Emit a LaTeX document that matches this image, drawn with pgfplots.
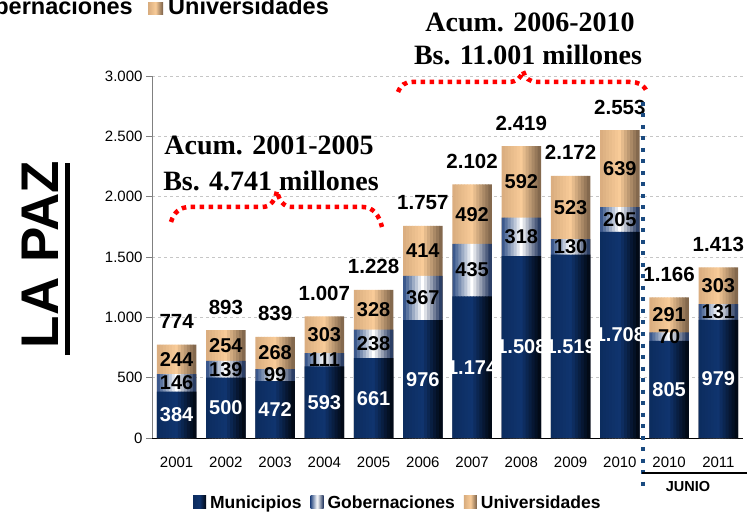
\documentclass[border=0pt]{standalone}
\usepackage{pgfplots}
\pgfplotsset{compat=1.18}
\usepackage{pgfplotstable}
\usepackage{fontspec}
\setmainfont{Liberation Sans}
\newfontfamily\timesf{Liberation Serif}
\definecolor{munL}{HTML}{0C2C5E}
\definecolor{munM}{HTML}{10346E}
\definecolor{munR}{HTML}{01060F}
\definecolor{gobL}{HTML}{2A4A82}
\definecolor{gobM}{HTML}{FFFFFF}
\definecolor{gobR}{HTML}{1A2E58}
\definecolor{uniL}{HTML}{D8AC7E}
\definecolor{uniM}{HTML}{F8CB98}
\definecolor{uniR}{HTML}{7A6048}
\definecolor{braceblue}{HTML}{1A4A80}
\definecolor{bracered}{HTML}{FF0000}

% 13-step horizontal gradient colours: name, left, middle, right
\newcommand\mkgrad[4]{%
  \colorlet{#1a}{#3!8!#2}\colorlet{#1b}{#3!23!#2}\colorlet{#1c}{#3!38!#2}%
  \colorlet{#1d}{#3!54!#2}\colorlet{#1e}{#3!69!#2}\colorlet{#1f}{#3!85!#2}%
  \colorlet{#1g}{#3}%
  \colorlet{#1h}{#4!15!#3}\colorlet{#1i}{#4!31!#3}\colorlet{#1j}{#4!46!#3}%
  \colorlet{#1k}{#4!62!#3}\colorlet{#1l}{#4!77!#3}\colorlet{#1m}{#4!92!#3}}
\mkgrad{mun}{munL}{munM}{munR}
\mkgrad{gob}{gobL}{gobM}{gobR}
\mkgrad{uni}{uniL}{uniM}{uniR}

\pgfplotstableread{
x m g u t
0 384 146 244 774
1 500 139 254 893
2 472 99 268 839
3 593 111 303 1007
4 661 238 328 1228
5 976 367 414 1757
6 1174 435 492 2102
7 1508 318 592 2419
8 1519 130 523 2172
9 1708 205 639 2553
10 805 70 291 1166
11 979 131 303 1413
}\datatable

% one vertical strip of every bar: colour, shift, height expression
\newcommand\strip[3]{\addplot[forget plot, draw=none, fill=#1, bar width=3.3pt, bar shift=#2pt]
  table[x=x, y expr={#3}] {\datatable};}
\newcommand\gradbars[2]{%
  \strip{#1a}{-18}{#2}\strip{#1b}{-15}{#2}\strip{#1c}{-12}{#2}\strip{#1d}{-9}{#2}%
  \strip{#1e}{-6}{#2}\strip{#1f}{-3}{#2}\strip{#1g}{0}{#2}\strip{#1h}{3}{#2}%
  \strip{#1i}{6}{#2}\strip{#1j}{9}{#2}\strip{#1k}{12}{#2}\strip{#1l}{15}{#2}%
  \strip{#1m}{18}{#2}}

\pgfplotsset{
  seglab/.style={
    forget plot, draw=none, fill=none, bar shift=0pt, bar width=1pt,
    nodes near coords={\pgfmathprintnumber{\pgfplotspointmeta}},
    point meta=explicit,
    every node near coord/.style={anchor=center, inner sep=0pt, text=#1,
      font=\bfseries\fontsize{20}{20}\selectfont},
  },
  myleg/.style={legend image code/.code={\path[##1,draw=none] (0pt,-5pt) rectangle (13pt,8pt);}},
}

\begin{document}
\begin{tikzpicture}[x=1pt,y=1pt]
\useasboundingbox (0,0) rectangle (747,512);
\begin{axis}[
  at={(152pt,74pt)}, anchor=south west,
  scale only axis, width=591pt, height=362pt,
  ybar, bar width=39pt,
  enlargelimits=false,
  xmin=-0.5, xmax=11.5, ymin=0, ymax=3000,
  axis x line*=bottom, axis y line*=left,
  x axis line style={black, line width=0.8pt},
  y axis line style={gray, line width=0.8pt},
  xtick={0,...,11},
  xticklabels={2001,2002,2003,2004,2005,2006,2007,2008,2009,2010,2010,2011},
  xtick style={draw=none},
  minor xtick={-0.5,0.5,...,11.5},
  minor x tick style={black, line width=0.6pt},
  minor tick length=5pt,
  ytick={0,500,...,3000},
  y tick style={gray, line width=0.6pt},
  major tick length=6pt,
  tick align=outside,
  ymajorgrids, grid style={dashed, gray!45, line width=0.6pt},
  /pgf/number format/.cd, 1000 sep={.}, assume math mode=true, /pgfplots/.cd,
  ticklabel style={font=\fontsize{15}{15}\selectfont},
  xticklabel style={yshift=-9pt},
  legend style={at={(0.416,-0.18)}, anchor=center, draw=none, fill=none,
    legend columns=-1, font=\bfseries\fontsize{17.5}{18}\selectfont,
    /tikz/every even column/.append style={column sep=7pt},
    /tikz/every odd column/.append style={column sep=2pt}},
]
% bars drawn back to front: whole stack, then Municipios+Gobernaciones, then Municipios
\gradbars{uni}{\thisrow{m}+\thisrow{g}+\thisrow{u}}
\gradbars{gob}{\thisrow{m}+\thisrow{g}}
\gradbars{mun}{\thisrow{m}}
% segment values (at the middle of each segment) and totals
\addplot[seglab=white] table[x=x, y expr={\thisrow{m}/2}, meta=m] {\datatable};
\addplot[seglab=black] table[x=x, y expr={\thisrow{m}+\thisrow{g}/2}, meta=g] {\datatable};
\addplot[seglab=black] table[x=x, y expr={\thisrow{m}+\thisrow{g}+\thisrow{u}/2}, meta=u] {\datatable};
\addplot[forget plot, draw=none, fill=none, bar shift=0pt, bar width=1pt,
  nodes near coords={\pgfmathprintnumber{\pgfplotspointmeta}},
  point meta=explicit,
  every node near coord/.style={anchor=base, inner sep=0pt, yshift=16pt,
    font=\bfseries\fontsize{20.5}{20.5}\selectfont}]
  table[x=x, y expr={\thisrow{m}+\thisrow{g}+\thisrow{u}}, meta=t] {\datatable};
\addlegendimage{myleg, left color=munL, right color=munR, middle color=munM}
\addlegendentry{Municipios}
\addlegendimage{myleg, left color=gobL, right color=gobR, middle color=gobM}
\addlegendentry{Gobernaciones}
\addlegendimage{myleg, left color=uniL, right color=uniR, middle color=uniM}
\addlegendentry{Universidades}
\end{axis}

% LA PAZ
\node[rotate=90, anchor=base, inner sep=0pt, font=\bfseries\fontsize{53}{53}\selectfont] at (58,257.5) {LA PAZ};
\draw[line width=5pt] (67.5,157) -- (67.5,349);

% annotations
\node[anchor=base, inner sep=0pt, font=\timesf\bfseries\fontsize{28}{28}\selectfont] at (269,357) {Acum. 2001-2005};
\node[anchor=base, inner sep=0pt, font=\timesf\bfseries\fontsize{28}{28}\selectfont] at (271,321) {Bs. 4.741 millones};
\node[anchor=base, inner sep=0pt, font=\timesf\bfseries\fontsize{28}{28}\selectfont] at (530,480) {Acum. 2006-2010};
\node[anchor=base, inner sep=0pt, font=\timesf\bfseries\fontsize{28}{28}\selectfont] at (528,447) {Bs. 11.001 millones};

% red braces
\draw[bracered, line width=4.5pt, dash pattern=on 4.5pt off 4.5pt]
  (171,290) .. controls (174,300) and (180,305) .. (190,305) -- (262,305)
  .. controls (271,305) and (275,312) .. (277,321)
  .. controls (279,312) and (283,305) .. (292,305) -- (363,305)
  .. controls (373,305) and (379,297) .. (382,285);
\draw[bracered, line width=4.5pt, dash pattern=on 4.5pt off 4.5pt]
  (398,420) .. controls (401,427) and (405,430) .. (412,430) -- (508,430)
  .. controls (517,430) and (521,434) .. (523,441)
  .. controls (525,434) and (529,430) .. (538,430) -- (630,430)
  .. controls (639,430) and (644,427) .. (647,420);

% blue dotted separator
\draw[braceblue, line width=4pt, dash pattern=on 4pt off 7.5pt] (642.5,410) -- (642.5,26);
% JUNIO group
\draw[black, line width=1.8pt] (642,39) -- (747,39);
\node[font=\bfseries\fontsize{14.5}{14.5}\selectfont, inner sep=0pt] at (688,25) {JUNIO};

% cropped legend at top
\node[anchor=base east, inner sep=0pt, font=\bfseries\fontsize{23.5}{23.5}\selectfont] at (133,497) {Gobernaciones};
\path[left color=uniL, right color=uniR, middle color=uniM] (148,497) rectangle (163,509);
\node[anchor=base west, inner sep=0pt, font=\bfseries\fontsize{23.5}{23.5}\selectfont] at (168,497) {Universidades};
\end{tikzpicture}
\end{document}
